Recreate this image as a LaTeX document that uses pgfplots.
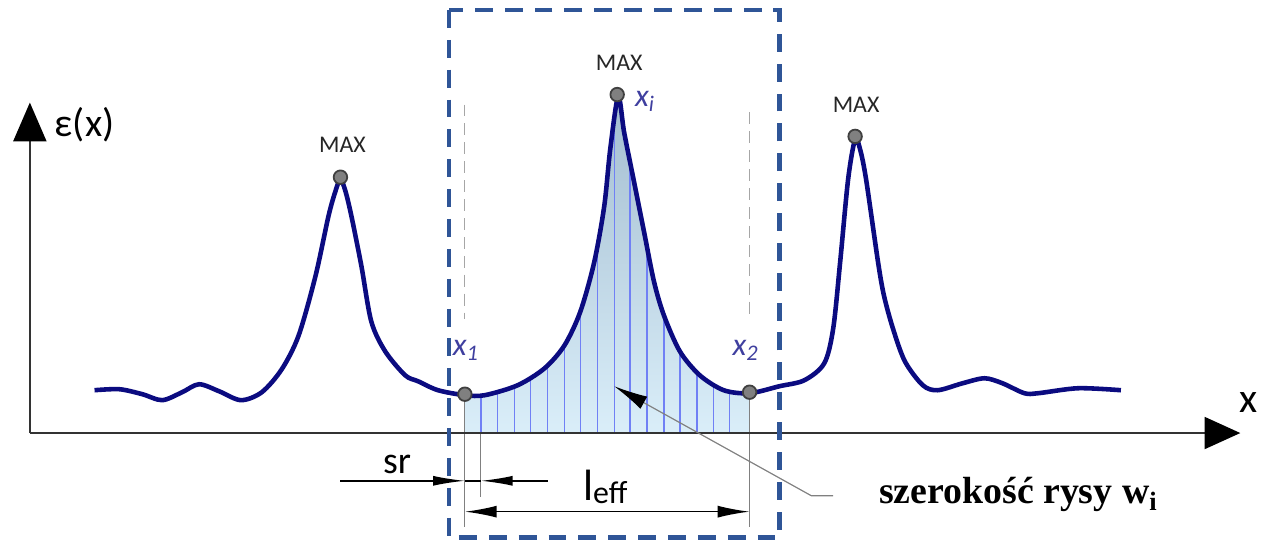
\documentclass[border=0pt]{standalone}
\usepackage{fontspec}
\setmainfont{Carlito}
\newfontfamily\serif{Liberation Serif}
\usepackage{pgfplots}
\pgfplotsset{compat=1.18}
\usetikzlibrary{arrows.meta}

\definecolor{curve}{HTML}{0B0B80}
\definecolor{boxblue}{HTML}{2F5597}
\definecolor{hatch}{HTML}{7080F5}
\definecolor{lab}{HTML}{3F3F9F}
\definecolor{axgray}{HTML}{333333}
\definecolor{shtop}{HTML}{A3BDD0}
\definecolor{shbot}{HTML}{DAEEF9}

\begin{document}
\begin{tikzpicture}
\begin{axis}[
    x=0.5pt, y=0.5pt,
    xmin=0, xmax=1264, ymin=-111, ymax=435,
    hide axis, clip=false,
]
    \path (axis cs:0,-111) rectangle (axis cs:1264,435);

    % shaded area under the central peak
    \addplot[draw=none, top color=shtop, bottom color=shbot, smooth, forget plot]
        coordinates {(467,38) (487,38) (520,48) (547,65) (567,88) (583,122) (597,172)
        (607,228) (613,285) (621,338) (627,302) (637,252) (647,202) (657,152)
        (667,118) (683,82) (703,58) (727,43) (753,40)} \closedcycle;

    % hatch lines
    \addplot[ycomb, color=hatch, line width=0.7pt, forget plot]
        coordinates {(483,38) (500,42) (517,47) (533,56) (550,68) (567,88) (583,122)
        (600,189) (617,311) (633,272) (650,187) (667,118) (683,82) (700,62)
        (717,49) (733,42)};

    % guides
    \draw[gray!70, line width=0.6pt, dash pattern=on 6pt off 3.5pt] (axis cs:467,330) -- (axis cs:467,115);
    \draw[gray!70, line width=0.6pt, dash pattern=on 6pt off 3.5pt] (axis cs:753,322) -- (axis cs:753,115);
    \draw[gray, line width=0.6pt] (axis cs:467,38) -- (axis cs:467,-94);
    \draw[gray, line width=0.6pt] (axis cs:483,0) -- (axis cs:483,-64);
    \draw[gray, line width=0.6pt] (axis cs:753,40) -- (axis cs:753,-94);

    % axes
    \draw[line width=1.3pt, color=axgray, -{Triangle[length=19.5pt,width=16.5pt,color=black]}]
        (axis cs:30,0) -- (axis cs:30,332);
    \draw[line width=1.3pt, color=axgray, -{Triangle[length=18pt,width=16pt,color=black]}]
        (axis cs:30,0) -- (axis cs:1246,0);
    \node[anchor=west, font=\fontsize{20}{24}\selectfont] at (axis cs:48,310) {ε(x)};
    \node[font=\fontsize{21}{24}\selectfont] at (axis cs:1254,31) {x};

    % strain curve
    \addplot[color=curve, line width=2.3pt, smooth, forget plot]
        coordinates {(95,43) (120,44) (143,39) (163,33) (183,41) (200,49) (220,42)
        (242,33) (263,41) (283,64) (300,98) (317,158) (330,218) (337,243) (342,255)
        (347,243) (353,218) (363,168) (373,112) (387,82) (407,58) (420,52) (440,43)
        (467,38) (487,38) (520,48) (547,65) (567,88) (583,122) (597,172) (607,228)
        (613,285) (621,338) (627,302) (637,252) (647,202) (657,152) (667,118)
        (683,82) (703,58) (727,43) (753,40) (783,47) (808,53) (828,70) (837,105)
        (844,172) (852,255) (859,295) (864,285) (870,255) (882,172) (888,138)
        (897,105) (909,72) (927,48) (942,43) (967,50) (989,55) (1007,50) (1029,40)
        (1043,40) (1083,45) (1126,43)};

    % maxima and x1, x2
    \addplot[only marks, mark=*, mark size=3.4pt,
        mark options={fill=gray, draw=black!75, line width=0.9pt}, forget plot]
        coordinates {(342,257) (620,340) (859,298) (467,39) (753,41)};

    \node[font=\fontsize{12}{14}\selectfont, text=black!85] at (axis cs:344,290) {MAX};
    \node[font=\fontsize{12}{14}\selectfont, text=black!85] at (axis cs:622,372) {MAX};
    \node[font=\fontsize{12}{14}\selectfont, text=black!85] at (axis cs:860,330) {MAX};
    \node[font=\fontsize{16}{18}\selectfont\itshape, text=lab] at (axis cs:648,333) {x\textsubscript{i}};
    \node[font=\fontsize{16}{18}\selectfont\itshape, text=lab] at (axis cs:468,83) {x\textsubscript{1}};
    \node[font=\fontsize{16}{18}\selectfont\itshape, text=lab] at (axis cs:749,83) {x\textsubscript{2}};

    % dimension lines
    \draw[line width=0.8pt, -{Latex[length=16pt,width=5pt]}] (axis cs:342,-48) -- (axis cs:467,-48);
    \draw[line width=0.8pt, -{Latex[length=16pt,width=5pt]}] (axis cs:550,-48) -- (axis cs:483,-48);
    \draw[line width=0.8pt] (axis cs:467,-48) -- (axis cs:483,-48);
    \node[font=\fontsize{19}{22}\selectfont] at (axis cs:399,-32) {sr};
    \draw[line width=0.8pt, {Latex[length=16pt,width=6pt]}-{Latex[length=16pt,width=6pt]}]
        (axis cs:467,-79) -- (axis cs:753,-79);
    \node[font=\fontsize{22}{24}\selectfont] at (axis cs:608,-54) {l\raisebox{-0.15ex}{\fontsize{16}{18}\selectfont eff}};

    % leader to label
    \draw[gray, line width=0.6pt, -{Latex[length=17pt,width=7pt,color=black]}]
        (axis cs:837,-63) -- (axis cs:815,-63) -- (axis cs:617,47);
    \node[anchor=west, font=\serif\bfseries\fontsize{19}{22}\selectfont] at (axis cs:876,-62)
        {szerokość rysy w\textsubscript{i}};

    % dashed box
    \draw[color=boxblue, line width=2.4pt, dash pattern=on 9pt off 6pt]
        (axis cs:451,425) rectangle (axis cs:783,-105);
\end{axis}
\end{tikzpicture}
\end{document}
